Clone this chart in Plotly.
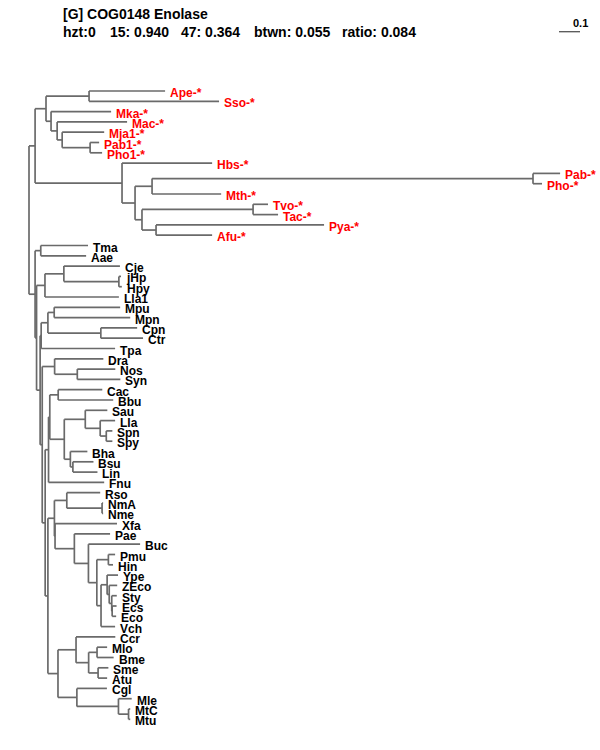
import plotly.graph_objects as go

# ---------------- data ----------------
TITLE = "[G] COG0148 Enolase"
STAT_LABELS = ["hzt:0", "15: 0.940", "47: 0.364", "btwn: 0.055", "ratio: 0.084"]
SCALE_BAR = 0.1

# archaeal clade (red labels, marked "-*")
ARCHAEA = (
    "(((Ape-*:0.362,Sso-*:0.619):0.205,(Mka-*:0.286,(Mac-*:0.333,(Mja1-*:0.200,"
    "(Pab1-*:0.043,Pho1-*:0.057):0.133):0.024):0.029):0.024):0.052,"
    "(Hbs-*:0.429,(((Pab-*:0.129,Pho-*:0.043):1.814,Mth-*:0.329):0.081,"
    "((Tvo-*:0.071,Tac-*:0.119):0.529,(Pya-*:0.800,Afu-*:0.267):0.067):0.033):0.062):0.414)"
)
# bacterial clade
BACTERIA = (
    "((Tma:0.225,Aae:0.216):0.027,"
    "(((Cje:0.267,(jHp:0.010,Hpy:0.014):0.262):0.090,Lla1:0.352):0.040,"
    "((((Mpu:0.314,Mpn:0.362):0.030,(Cpn:0.173,Ctr:0.201):0.252):0.032,Tpa:0.352):0.005,"
    "((Dra:0.232,(Nos:0.181,Syn:0.205):0.108):0.059,"
    "((((Cac:0.210,Bbu:0.262):0.040,((Sau:0.105,(Lla:0.071,(Spn:0.029,Spy:0.029):0.029):0.071):0.100,"
    "(Bha:0.081,(Bsu:0.098,Lin:0.117):0.012):0.029):0.069):0.006,Fnu:0.265):0.016,"
    "(((Rso:0.159,(NmA:0.005,Nme:0.005):0.168):0.059,(Xfa:0.295,(Pae:0.170,(Buc:0.246,"
    "((Pmu:0.032,Hin:0.022):0.055,((Ype:0.052,(ZEco:0.038,(Sty:0.024,(Ecs:0.021,Eco:0.019):0.002)"
    ":0.012):0.010):0.029,Vch:0.067):0.020):0.040):0.067):0.092):0.003):0.031,"
    "((Ccr:0.187,((Mlo:0.048,Bme:0.079):0.040,(Sme:0.049,Atu:0.043):0.045):0.060):0.086,"
    "(Cgl:0.143,(Mle:0.063,(MtC:0.008,Mtu:0.008):0.048):0.198):0.090):0.048"
    "):0.013):0.014):0.010):0.017):0.007)"
)
ROOT_BRANCHES = [0.029, 0.029]

NEWICK = "(" + ARCHAEA + ":" + str(ROOT_BRANCHES[0]) + "," + BACTERIA + ":" + str(ROOT_BRANCHES[1]) + ");"


# ---------------- parse ----------------
def parse_newick(s):
    pos = 0

    def node():
        nonlocal pos
        n = {"name": "", "len": 0.0, "children": []}
        if s[pos] == "(":
            pos += 1
            n["children"].append(node())
            while s[pos] == ",":
                pos += 1
                n["children"].append(node())
            pos += 1  # ')'
        start = pos
        while pos < len(s) and s[pos] not in ",():;":
            pos += 1
        n["name"] = s[start:pos]
        if pos < len(s) and s[pos] == ":":
            pos += 1
            start = pos
            while pos < len(s) and s[pos] not in ",();":
                pos += 1
            n["len"] = float(s[start:pos])
        return n

    return node()


root = parse_newick(NEWICK)

leaves = []


def layout(n, x):
    n["x"] = x
    if not n["children"]:
        n["y"] = len(leaves)
        leaves.append(n)
    else:
        for c in n["children"]:
            layout(c, x + c["len"])
        n["y"] = (n["children"][0]["y"] + n["children"][-1]["y"]) / 2.0


layout(root, 0.0)

xs, ys = [], []


def segments(n):
    if n["children"]:
        xs.extend([n["x"], n["x"], None])
        ys.extend([n["children"][0]["y"], n["children"][-1]["y"], None])
        for c in n["children"]:
            xs.extend([n["x"], c["x"], None])
            ys.extend([c["y"], c["y"], None])
            segments(c)


segments(root)

# ---------------- figure ----------------
W, H = 600, 750
PX_PER_UNIT = 210.0
ROOT_PX = 29.0
FIRST_LEAF_PX = 91.0
LEAF_STEP_PX = 10.3

fig = go.Figure()
fig.add_trace(go.Scatter(x=xs, y=ys, mode="lines",
                         line=dict(color="#6a6a6a", width=1.7),
                         hoverinfo="skip", showlegend=False))

for lf in leaves:
    red = lf["name"].endswith("-*")
    fig.add_annotation(x=lf["x"], y=lf["y"], xref="x", yref="y",
                       text="<b>" + lf["name"] + "</b>", showarrow=False,
                       xanchor="left", yanchor="middle", xshift=3, yshift=-2,
                       font=dict(family="Liberation Sans, Arial, sans-serif", size=12,
                                 color="#ff0000" if red else "#000000"))

hdr_font = dict(family="Liberation Sans, Arial, sans-serif", size=14, color="#000000")
fig.add_annotation(x=61 / W, y=1 - 13.5 / H, xref="paper", yref="paper", text="<b>" + TITLE + "</b>",
                   showarrow=False, xanchor="left", yanchor="middle", font=hdr_font)
stat_x = [61, 108, 179, 252, 340]
for sx, lab in zip(stat_x, STAT_LABELS):
    fig.add_annotation(x=sx / W, y=1 - 31.5 / H, xref="paper", yref="paper", text="<b>" + lab + "</b>",
                       showarrow=False, xanchor="left", yanchor="middle", font=hdr_font)

bar_x0 = (559 - ROOT_PX) / PX_PER_UNIT
fig.add_shape(type="line", xref="x", yref="paper", x0=bar_x0, x1=bar_x0 + SCALE_BAR,
              y0=1 - 31.7 / H, y1=1 - 31.7 / H, line=dict(color="#555555", width=1.3))
fig.add_annotation(x=bar_x0 + SCALE_BAR, y=1 - 23 / H, xref="x", yref="paper", text="<b>" + str(SCALE_BAR) + "</b>",
                   showarrow=False, xanchor="center", yanchor="middle",
                   font=dict(family="Liberation Sans, Arial, sans-serif", size=11, color="#000000"))

fig.update_layout(
    width=W, height=H, margin=dict(l=0, r=0, t=0, b=0),
    paper_bgcolor="white", plot_bgcolor="white", showlegend=False,
    xaxis=dict(range=[-ROOT_PX / PX_PER_UNIT, (W - ROOT_PX) / PX_PER_UNIT], visible=False, fixedrange=True),
    yaxis=dict(range=[(H - FIRST_LEAF_PX) / LEAF_STEP_PX, -FIRST_LEAF_PX / LEAF_STEP_PX],
               visible=False, fixedrange=True),
)

fig.write_html("out.html", config={"displayModeBar": False},
               post_script="document.body.style.margin='0';")
